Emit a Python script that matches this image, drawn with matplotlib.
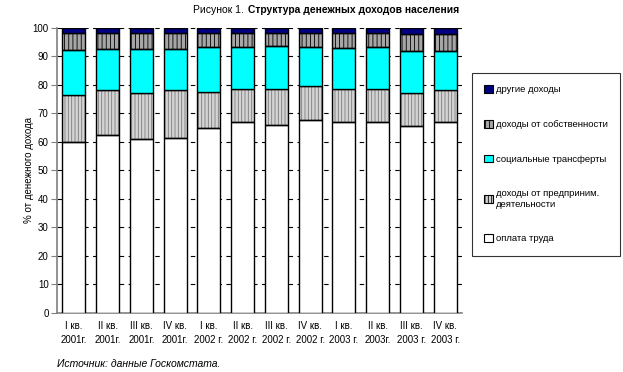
import numpy as np
import matplotlib
matplotlib.use("Agg")
import matplotlib.pyplot as plt
from matplotlib.patches import Patch

plt.rcParams['font.family'] = ['Liberation Sans', 'DejaVu Sans']
plt.rcParams['hatch.linewidth'] = 0.6

quarters = ["I кв.\n2001г.", "II кв.\n2001г.", "III кв.\n2001г.", "IV кв.\n2001г.",
            "I кв.\n2002 г.", "II кв.\n2002 г.", "III кв.\n2002 г.", "IV кв.\n2002 г.",
            "I кв.\n2003 г.", "II кв.\n2003г.", "III кв.\n2003 г.", "IV кв.\n2003 г."]
wages = [59.9, 62.5, 61.1, 61.5, 64.8, 66.8, 65.8, 67.5, 67.1, 67.1, 65.4, 66.9]
business = [16.6, 15.5, 16.1, 16.5, 12.5, 11.7, 12.7, 12.0, 11.4, 11.4, 11.8, 11.1]
social = [15.8, 14.6, 15.2, 14.6, 15.8, 14.6, 15.0, 13.6, 14.5, 14.6, 14.8, 13.8]
prop = [5.8, 5.5, 5.7, 5.5, 5.0, 5.0, 4.6, 5.0, 5.1, 5.0, 5.9, 6.1]
other = [1.9, 1.9, 1.9, 1.9, 1.9, 1.9, 1.9, 1.9, 1.9, 1.9, 2.1, 2.1]

fig = plt.figure(figsize=(6.23, 3.72), dpi=100)
ax = fig.add_axes([57/623, 1 - 313/372, (462 - 57)/623, (313 - 27.7)/372])

x = np.arange(len(quarters))
w = 0.68
series = [
    (wages, 'white', None, None),
    (business, '#d4d4d4', '|||||', '#7a7a7a'),
    (social, '#00ffff', None, None),
    (prop, '#a6a6a6', '||||', '#000000'),
    (other, '#000080', None, None),
]
bottom = np.zeros(len(quarters))
for vals, fc, hatch, hc in series:
    vals = np.array(vals)
    if hatch:
        ax.bar(x, vals, w, bottom=bottom, color=fc, hatch=hatch, edgecolor=hc,
               linewidth=0, zorder=2)
        ax.bar(x, vals, w, bottom=bottom, fill=False, edgecolor='black',
               linewidth=1, zorder=3)
    else:
        ax.bar(x, vals, w, bottom=bottom, color=fc, edgecolor='black',
               linewidth=1, zorder=3)
    bottom += vals

ax.set_xlim(-0.5, len(quarters) - 0.5)
ax.set_ylim(0, 100)
ax.set_yticks(np.arange(0, 101, 10))
for v in range(10, 101, 10):
    ax.axhline(v, color='black', lw=0.8, ls=(0, (4, 4)), zorder=1)
ax.set_xticks(x)
ax.set_xticklabels(quarters, fontsize=7, linespacing=1.5)
ax.tick_params(axis='x', length=0, pad=6)
ax.tick_params(axis='y', labelsize=7, length=4, color='#808080', pad=2)
for s in ['top', 'right']:
    ax.spines[s].set_visible(False)
for s in ['left', 'bottom']:
    ax.spines[s].set_color('#808080')
    ax.spines[s].set_linewidth(1.2)
ax.set_ylabel('% от денежного дохода', fontsize=7, labelpad=-1)

fig.text(193/623, 1 - 10/372, 'Рисунок 1.', fontsize=7.5, va='center', ha='left')
fig.text(248/623, 1 - 10/372, 'Структура денежных доходов населения', fontsize=7.4,
         fontweight='bold', va='center', ha='left')
fig.text(57/623, 1 - 364/372, 'Источник: данные Госкомстата.', fontsize=7.5,
         style='italic', va='center', ha='left')

handles = [
    Patch(facecolor='#000080', edgecolor='black', lw=0.8, label='другие доходы'),
    Patch(facecolor='#a6a6a6', edgecolor='black', hatch='||||', lw=0.8, label='доходы от собственности'),
    Patch(facecolor='#00ffff', edgecolor='black', lw=0.8, label='социальные трансферты'),
    Patch(facecolor='#d4d4d4', edgecolor='black', hatch='|||||', lw=0.8, label='доходы от предприним.\nдеятельности'),
    Patch(facecolor='white', edgecolor='black', lw=0.8, label='оплата труда'),
]
leg = fig.legend(handles=handles, loc='upper left', bbox_to_anchor=(472/623, 1 - 73/372),
                 fontsize=6.8, frameon=True, fancybox=False, edgecolor='black',
                 handlelength=0.9, handleheight=0.9, handletextpad=0.3,
                 labelspacing=2.7, borderpad=1.3, borderaxespad=0)
leg.get_frame().set_linewidth(0.8)

fig.savefig('out.png', dpi=100)
